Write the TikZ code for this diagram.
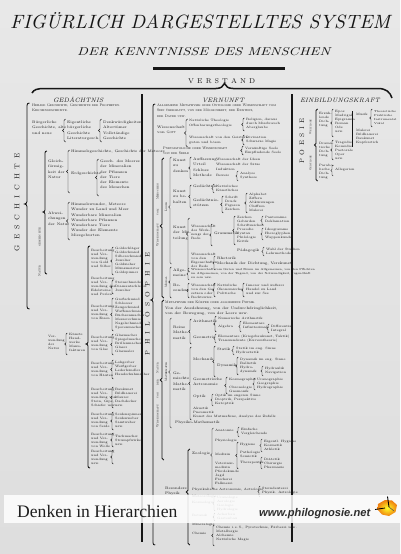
\documentclass[tikz,border=0pt]{standalone}
\usepackage{fontspec}
\usepackage{graphicx}
\newfontfamily\libserif{Liberation Serif}
\newfontfamily\libsans{Liberation Sans}
\definecolor{paper}{HTML}{E8E8E8}
\definecolor{paperlow}{HTML}{DEDEDE}
\definecolor{ink}{HTML}{161616}
\definecolor{gold}{HTML}{D9A521}
\newcounter{tn}
\tikzset{
 tx/.style={anchor=north west, inner sep=0pt, align=left, text=ink, font=\fontsize{3.6}{5.2}\selectfont},
 txc/.style={tx, font=\fontsize{3.6}{5.2}\selectfont\scshape},
 ts/.style={anchor=north west, inner sep=0pt, align=left, text=ink, font=\fontsize{3.2}{4}\selectfont},
 tsw/.style={anchor=north west, inner sep=0pt, align=left, text=ink, font=\fontsize{3.2}{5.2}\selectfont},
 tss/.style={anchor=north west, inner sep=0pt, align=left, text=ink, font=\fontsize{2.9}{4}\selectfont},
 brc/.style={draw=ink, line width=0.45pt},
 bigbrc/.style={draw=ink, line width=0.85pt},
 rot/.style={rotate=90, inner sep=0pt, text=ink},
 head/.style={anchor=base, inner sep=0pt, text=ink, font=\fontsize{6.3}{6.3}\selectfont\itshape},
}
\newcommand\T[4][tx]{\stepcounter{tn}\node[#1] (t\arabic{tn}) at (#2,#3) {#4};}
\newcommand\CBr[6][brc]{\draw[#1] (#2+#6,#3) .. controls (#2+0.3*#6,#3) and (#2,#3+0.3*#6) .. (#2,#3+#6) -- (#2,#4-#6) .. controls (#2,#4-0.4*#6) and (#2-0.5*#6,#4) .. (#2-#6,#4) .. controls (#2-0.5*#6,#4) and (#2,#4+0.4*#6) .. (#2,#4+#6) -- (#2,#5-#6) .. controls (#2,#5-0.3*#6) and (#2+0.3*#6,#5) .. (#2+#6,#5);}
\newcommand\Br[5][brc]{\pgfmathsetmacro\ymidd{(#3+#4)/2}\CBr[#1]{#2}{#3}{\ymidd}{#4}{#5}}
\begin{document}
\begin{tikzpicture}[x=1pt,y=-1pt]
\useasboundingbox (0,0) rectangle (400,554);
\shade[top color=paper, bottom color=paperlow] (0,0) rectangle (400,554);
% ---------- titles ----------
\node[anchor=base west, inner sep=0pt, text=ink] (title) at (10,28) {\resizebox{380pt}{16pt}{\itshape FIGÜRLICH DARGESTELLTES SYSTEM}};
\node[anchor=base west, inner sep=0pt, text=ink] (subtitle) at (77,55) {\resizebox{253pt}{8pt}{\itshape DER KENNTNISSE DES MENSCHEN}};
\coordinate (barL) at (153,68);
\coordinate (barR) at (285,68);
\draw[ink, line width=3pt] (barL) -- (barR);
\node[anchor=base west, inner sep=0pt, text=ink, font=\fontsize{7}{7}\selectfont] (verstand) at (188,83) {\makebox[67pt][s]{V\hfil E\hfil R\hfil S\hfil T\hfil A\hfil N\hfil D}};
\draw[ink, line width=1.5pt] (32,93) .. controls (34,89.5) and (37,88.5) .. (45,88.5) -- (216,88.5) .. controls (221,88.5) and (223,86.5) .. (224.5,83.5) .. controls (226,86.5) and (228,88.5) .. (233,88.5) -- (378,88.5) .. controls (386,88.5) and (390,92) .. (392,98);
% ---------- headings ----------
\node[head] (gedaechtnis) at (75,102) {\makebox[44pt][s]{G\hfil E\hfil D\hfil Ä\hfil C\hfil H\hfil T\hfil N\hfil I\hfil S}};
\node[head] (vernunft) at (222.5,102) {\makebox[41pt][s]{V\hfil E\hfil R\hfil N\hfil U\hfil N\hfil F\hfil T}};
\node[head] (einbildung) at (340,102) {\makebox[80pt][s]{E\hfil I\hfil N\hfil B\hfil I\hfil L\hfil D\hfil U\hfil N\hfil G\hfil S\hfil K\hfil R\hfil A\hfil F\hfil T}};
% ---------- dividers ----------
\coordinate (d1t) at (142,94); \coordinate (d1b) at (142,542);
\coordinate (d2t) at (292,94); \coordinate (d2b) at (292,542);
\draw[ink, line width=1.1pt] (d1t) -- (d1b);
\draw[ink, line width=1.1pt] (d2t) -- (d2b);
% ================= LEFT: GEDAECHTNIS =================
\CBr[bigbrc]{27}{103}{204}{309}{2.5}
\node[rot, font=\fontsize{7}{7}\selectfont] (gesch) at (17,202) {\makebox[98pt][s]{G\hfil E\hfil S\hfil C\hfil H\hfil I\hfil C\hfil H\hfil T\hfil E}};
\T[txc]{32}{104}{Heilige Geschichte, Geschichte der Propheten.\\Kirchengeschichte.}
\T{32}{121}{Bürgerliche\\Geschichte, alte\\und neue}
\Br{64}{119}{142}{1.5}
\T{67}{121}{Eigentliche\\bürgerliche\\Geschichte\\Literaturgesch.}
\Br{100}{119}{142}{1.5}
\T{103}{121}{Denkwürdigkeiten\\Altertümer\\Vollständige\\Geschichte}
% Naturgeschichte
\CBr[bigbrc]{45}{151}{212}{274}{2}
\node[rot, font=\fontsize{3.4}{3.4}\selectfont\scshape] (natg) at (39.5,252) {\makebox[48pt][s]{Natur\hfil geschichte}};
\T{48}{160}{Gleich-\\förmig-\\keit der\\Natur}
\Br{68}{150}{193}{1.5}
\T{71}{150}{Himmelsgeschichte, Geschichte der Meteore}
\T{71}{172}{Erdgeschichte}
\Br{97}{159}{196}{1.5}
\T{100}{160}{Gesch. des Meeres\\der Mineralien\\der Pflanzen\\der Tiere\\der Elemente\\des Menschen}
\T{48}{212}{Abwei-\\chungen\\der Natur}
\Br{68}{202}{240}{1.5}
\T{71}{203}{Himmelswunder, Meteore\\Wunder zu Land und Meer\\Wunderbare Mineralien\\Wunderbare Pflanzen\\Wunderbare Tiere\\Wunder der Elemente\\Missgeburten}
% Verwendung der Natur
\T[ts]{48}{335}{Ver-\\wendung\\der\\Natur}
\Br{66}{333}{355}{1.2}
\T[ts]{69}{333}{Künste\\Hand-\\werke\\Manu-\\fakturen}
\CBr[bigbrc]{88}{246}{344}{468}{2}
\T[ts]{91}{249}{Bearbeitung\\und Ver-\\wendung\\von Gold\\und Silber}
\Br{112}{247}{275}{1.3}
\T[ts]{115}{247}{Goldschläger\\Goldschmied\\Silberschmied\\Juwelier\\Goldzieher\\Münzmeister\\Goldspinner}
\T[ts]{91}{277}{Bearbeitung\\und Ver-\\wendung der\\Edelsteine\\und Perlen}
\Br{112}{280}{294}{1.3}
\T[ts]{115}{281}{Steinschneider\\Diamantschleifer\\Juwelier}
\T[ts]{91}{305}{Bearbeitung\\und Ver-\\wendung\\von Eisen}
\Br{112}{298}{331}{1.3}
\T[ts]{115}{298}{Großschmied\\Schlosser\\Zeugschmied\\Waffenschmied\\Büchsenmacher\\Messerschmied\\Nagelschmied\\Sporenmacher}
\T[ts]{91}{336}{Bearbeitung\\und Ver-\\wendung\\von Glas}
\Br{112}{334}{355}{1.3}
\T[ts]{115}{334}{Glasmacher\\Spiegelmacher\\Brillenmacher\\Glaser\\Glasmaler}
\T[ts]{91}{362}{Bearbeitung\\und Ver-\\wendung\\von Häuten}
\Br{112}{360}{379}{1.3}
\T[ts]{115}{361}{Lohgerber\\Weißgerber\\Lederhändler\\Handschuhmacher}
\T[ts]{91}{388}{Bearbeitung\\und Ver-\\wendung von\\Stein, Gips,\\Schiefer usw.}
\Br{112}{387}{408}{1.3}
\T[ts]{115}{388}{Baukunst\\Bildhauerei\\Maurer\\Dachdecker\\usw.}
\T[ts]{91}{413}{Bearbeitung\\und Ver-\\wendung\\von Seide}
\Br{112}{412}{430}{1.3}
\T[ts]{115}{413}{Seidenspinner\\Seidenweber\\Samtweber\\usw.}
\T[ts]{91}{433}{Bearbeitung\\und Ver-\\wendung\\von Wolle}
\Br{112}{433}{447}{1.3}
\T[ts]{115}{435}{Tuchmacher\\Strumpfwirker\\usw.}
\T[ts]{91}{450}{Bearbeitung\\und Ver-\\wendung\\usw.}
\Br{112}{450}{464}{1.3}
% ================= MIDDLE: VERNUNFT =================
\CBr[bigbrc]{153}{104}{300}{545}{2.2}
\node[rot, font=\fontsize{6.5}{6.5}\selectfont] (philo) at (147.3,304) {\makebox[102pt][s]{P\hfil H\hfil I\hfil L\hfil O\hfil S\hfil O\hfil P\hfil H\hfil I\hfil E}};
\T[txc]{157}{104}{Allgemeine Metaphysik oder Ontologie oder Wissenschaft vom\\Sein überhaupt, von der Möglichkeit, der Existenz,\\der Dauer usw.}
\T{157}{126}{Wissenschaft\\von \textsc{Gott}}
\CBr{186}{119}{133}{147}{1.5}
\T[tsw]{189}{119}{Natürliche Theologie\\Offenbarungstheologie}
\T[tsw]{189}{136}{Wissenschaft von den Geistern\\guten und bösen}
\Br{243}{118}{131}{1.3}
\T[ts]{246}{118}{Religion, daraus\\durch Missbrauch\\Aberglaube}
\Br{243}{135}{145}{1.3}
\T[ts]{246}{136}{Divination\\Schwarze Magie}
\T[txc]{163}{147}{Pneumatologie oder Wissenschaft\\von der Seele}
\Br{242}{146}{155}{1.3}
\T[ts]{245}{147}{Vernünftige Seele\\Empfindende Seele}
% Wissenschaft vom Menschen
\CBr[bigbrc]{162}{158}{226}{298}{1.8}
\node[rot, font=\fontsize{3.2}{3.2}\selectfont\scshape] (mensch) at (157.6,215) {\makebox[62pt][s]{Wissenschaft\hfil vom\hfil Menschen}};
\CBr{170}{157}{207}{264}{1.4}
\node[rot, font=\fontsize{3.2}{3.2}\selectfont\scshape] (logik) at (166,207) {Logik};
\T{173}{159}{Kunst\\zu\\denken}
\Br{190}{157}{179}{1.3}
\T{193}{158}{Auffassung\\Urteil\\Schluss\\Methode}
\T[tsw]{216}{158}{Wissenschaft der Ideen\\Wissenschaft der Sätze\\Induktion\\Beweis}
\Br{237}{171}{181}{1.1}
\T[ts]{240}{172}{Analyse\\Synthese}
\T{173}{190}{Kunst\\zu be-\\halten}
\Br{190}{185}{208}{1.3}
\T{193}{185}{Gedächtnis}
\Br{213}{184}{193}{1.1}
\T[ts]{216}{185}{Natürliches\\Künstliches}
\T{193}{199}{Gedächtnis-\\stützen}
\Br{222}{196}{213}{1.2}
\T[ts]{225}{196}{Schrift\\Druck\\Figuren\\Zeichen}
\Br{246}{193}{213}{1.2}
\T[ts]{249}{193}{Alphabet\\Ziffern\\Abkürzungen\\Chiffren\\Malerei}
\T{173}{226}{Kunst\\der Mit-\\teilung}
\CBr{188}{218}{234}{272}{1.5}
\T[ts]{191}{225}{Wissenschaft\\des Werk-\\zeugs der\\Rede}
\Br{211}{224}{246}{1.2}
\T{214}{232}{Grammatik}
\Br{234}{216}{245}{1.2}
\T[ts]{237}{216}{Zeichen\\Gebärden\\Schriftzeichen\\Prosodie\\Syntax\\Philologie\\Kritik}
\Br{262}{216}{225}{1.1}
\T[ts]{265}{216}{Pantomime\\Deklamation}
\Br{262}{228}{240}{1.1}
\T[ts]{265}{228}{Ideogramme\\Hieroglyphen\\Wappenkunde}
\T{237}{249}{Pädagogik}
\Br{263}{247}{256}{1.1}
\T[ts]{266}{248}{Wahl der Studien\\Lehrmethode}
\T[ts]{191}{253}{Wissenschaft\\von den\\Eigenschaften\\der Rede}
\Br{214}{256}{270}{1.1}
\T{217}{257}{Rhetorik\\Mechanik der Dichtung, Verskunst}
\CBr{170}{267}{282}{298}{1.3}
\node[rot, font=\fontsize{3.2}{3.2}\selectfont\scshape] (moral) at (166,282) {Moral};
\T{173}{269}{Allge-\\meine}
\Br{188}{268}{280}{1.1}
\T[tss]{191}{268}{Wissenschaft vom Guten und Bösen im Allgemeinen, von den Pflichten\\im Allgemeinen, von der Tugend, von der Notwendigkeit, tugendhaft\\zu sein usw.}
\T{173}{284}{Be-\\sondere}
\Br{188}{283}{298}{1.2}
\T[ts]{191}{284}{Wissenschaft\\von den Ge-\\setzen oder\\Rechtswiss.}
\Br{214}{283}{297}{1.2}
\T[ts]{217}{284}{Natürliche\\Ökonomische\\Politische}
\Br{243}{283}{297}{1.2}
\T[ts]{246}{284}{Innerer und äußerer\\Handel zu Land\\und zur See}
% Wissenschaft von der Natur
\CBr[bigbrc]{162}{300}{380}{460}{1.8}
\node[rot, font=\fontsize{3.2}{3.2}\selectfont\scshape] (natur) at (157.6,395) {\makebox[64pt][s]{Wissenschaft\hfil von\hfil der\hfil Natur}};
\T{165}{301}{\textsc{Metaphysik der Körper oder allgemeine Physik.}\\Von der Ausdehnung, von der Undurchdringlichkeit,\\von der Bewegung, von der Leere usw.}
\CBr{170}{318}{372}{428}{1.4}
\node[rot, font=\fontsize{3.2}{3.2}\selectfont\scshape] (mathe) at (166,372) {Mathematik};
\T{173}{326}{Reine\\Mathe-\\matik}
\Br{190}{319}{344}{1.3}
\T{193}{320}{Arithmetik}
\T{193}{336}{Geometrie}
\Br{215}{316}{332}{1.2}
\T[ts]{218}{317}{Numerische Arithmetik}
\T[ts]{218}{325}{Algebra}
\Br{240}{321}{332}{1.1}
\T[ts]{243}{322}{Elementare\\Infinitesimale}
\Br{268}{324}{333}{1.1}
\T[ts]{271}{325}{Differential\\Integral}
\Br{215}{334}{343}{1.1}
\T[ts]{218}{335}{Elementare (Kriegsbaukunst, Taktik)\\Transzendente (Kurventheorie)}
\T{173}{372}{Ge-\\mischte\\Mathe-\\matik}
\Br{190}{347}{420}{1.3}
\T{193}{358}{Mechanik}
\Br{214}{346}{377}{1.3}
\T{217}{348}{Statik}
\Br{233}{346}{355}{1.1}
\T[ts]{236}{347}{Statik im eng. Sinne\\Hydrostatik}
\T{217}{364}{Dynamik}
\Br{237}{357}{375}{1.2}
\T[ts]{240}{358}{Dynamik im eng. Sinne\\Ballistik\\Hydro-\\dynamik}
\Br{262}{366}{376}{1.1}
\T[ts]{265}{367}{Hydraulik\\Navigation}
\T{193}{378}{Geometrische\\Astronomie}
\Br{226}{377}{394}{1.3}
\T[ts]{229}{378}{Kosmographie}
\Br{254}{378}{390}{1.1}
\T[ts]{257}{378}{Uranographie\\Geographie\\Hydrographie}
\T[ts]{229}{386}{Chronologie\\Gnomonik}
\T{193}{395}{Optik}
\Br{212}{394}{406}{1.1}
\T[ts]{215}{394}{Optik im engeren Sinne\\Dioptrik, Perspektive\\Katoptrik}
\T[ts]{193}{407}{Akustik\\Pneumatik\\Kunst des Mutmaßens, Analyse des Zufalls}
\T{175}{421}{Physiko-Mathematik}
% Besondere Physik
\T{165}{487}{Besondere\\Physik}
\CBr[bigbrc]{188}{449}{492}{545}{1.8}
\T{192}{452}{Zoologie}
\CBr{212}{428}{455}{489}{1.4}
\T[ts]{215}{429}{Anatomie}
\Br{238}{427}{437}{1.1}
\T[ts]{241}{428}{Einfache\\Vergleichende}
\T[ts]{215}{439}{Physiologie}
\T[ts]{215}{453}{Medizin}
\Br{237}{442}{469}{1.2}
\T[ts]{240}{443}{Hygiene}
\Br{261}{439}{452}{1.1}
\T[ts]{264}{440}{Eigentl. Hygiene\\Kosmetik\\Athletik}
\T[ts]{240}{451}{Pathologie\\Semiotik}
\T[ts]{240}{461}{Therapeutik}
\Br{261}{457}{469}{1.1}
\T[ts]{264}{458}{Diätetik\\Chirurgie\\Pharmazie}
\T[ts]{215}{462}{Veterinär-\\medizin\\Pferdekunde\\Jagd\\Fischerei\\Falknerei}
\T[ts]{192}{488}{Physikalische Astronomie, Astrologie}
\Br{259}{486}{497}{1.1}
\T[ts]{262}{487}{Sterndeuterei\\Physik. Astrologie}
\T[ts]{192}{495}{Meteorologie}
\T[ts]{192}{501}{Kosmologie}
\Br{214}{496}{511}{1.1}
\T[ts]{217}{496}{Uranologie\\Aerologie\\Geologie\\Hydrologie}
\T[ts]{192}{514}{Botanik}
\Br{214}{513}{521}{1}
\T[ts]{217}{513}{Ackerbau\\Gartenbau}
\T[ts]{192}{523}{Mineralogie}
\T[ts]{192}{532}{Chemie}
\Br{213}{525}{546}{1.2}
\T[ts]{216}{526}{Chemie i.\,e.\,S., Pyrotechnie, Färberei usw.\\Metallurgie\\Alchemie\\Natürliche Magie}
% ================= RIGHT: EINBILDUNGSKRAFT =================
\node[rot, font=\fontsize{6.5}{6.5}\selectfont] (poesie) at (302,141) {\makebox[45pt][s]{P\hfil O\hfil E\hfil S\hfil I\hfil E}};
\CBr[bigbrc]{316}{109}{145}{181}{1.5}
\node[rot, font=\fontsize{2.8}{2.8}\selectfont\scshape] (weltl) at (310.5,127) {Weltliche};
\node[rot, font=\fontsize{2.8}{2.8}\selectfont\scshape] (geistl) at (310.5,163) {Geistliche};
\T[ts]{319}{112}{Erzäh-\\lende\\Dich-\\tung}
\Br{332}{109}{137}{1.2}
\T[ts]{335}{110}{Epos\\Madrigal\\Epigramm\\Roman\\Ode\\usw.}
\coordinate (vbT) at (352,111); \coordinate (vbB) at (352,147);
\draw[brc] (vbT) -- (vbB);
\T[ts]{356}{113}{Musik}
\Br{371}{109}{127}{1.2}
\T[tss]{374}{110}{Theoretische\\Praktische\\Instrumental\\Vokal}
\T[ts]{356}{129}{Malerei\\Bildhauerei\\Baukunst\\Kupferstich}
\T[ts]{319}{142}{Drama-\\tische\\Dich-\\tung}
\Br{332}{140}{160}{1.2}
\T[ts]{335}{141}{Tragödie\\Komödie\\Pastorale\\Oper\\usw.}
\T[ts]{319}{164}{Parabo-\\lische\\Dich-\\tung}
\Br{332}{165}{176}{1.1}
\T[ts]{335}{168}{Allegorien}
% ================= bottom band =================
\fill[white, opacity=0.84] (4,495) rectangle (400,523);
\node[anchor=base west, inner sep=0pt, text=black!88, font=\libserif\fontsize{17.6}{18}\selectfont] (caption) at (17,517) {Denken in Hierarchien};
\node[anchor=base west, inner sep=0pt, text=black!82, font=\libsans\bfseries\itshape\fontsize{11}{11}\selectfont] (url) at (259,516) {\resizebox{111pt}{!}{www.philognosie.net}};
\shade[inner color=yellow!85!white, outer color=orange!75!brown] (378,504) -- (385,500) -- (392,500.5) -- (397,505) -- (395.5,512) -- (389,516) -- (382,514.5) -- (377.5,509.5) -- cycle;
\draw[black, line width=0.9pt] (389,507) -- (387.5,496.5);
\draw[black, line width=0.8pt] (385,508) -- (375,509.5);
\draw[black!70, line width=0.5pt] (389,507) -- (394,511);
\end{tikzpicture}
\end{document}
